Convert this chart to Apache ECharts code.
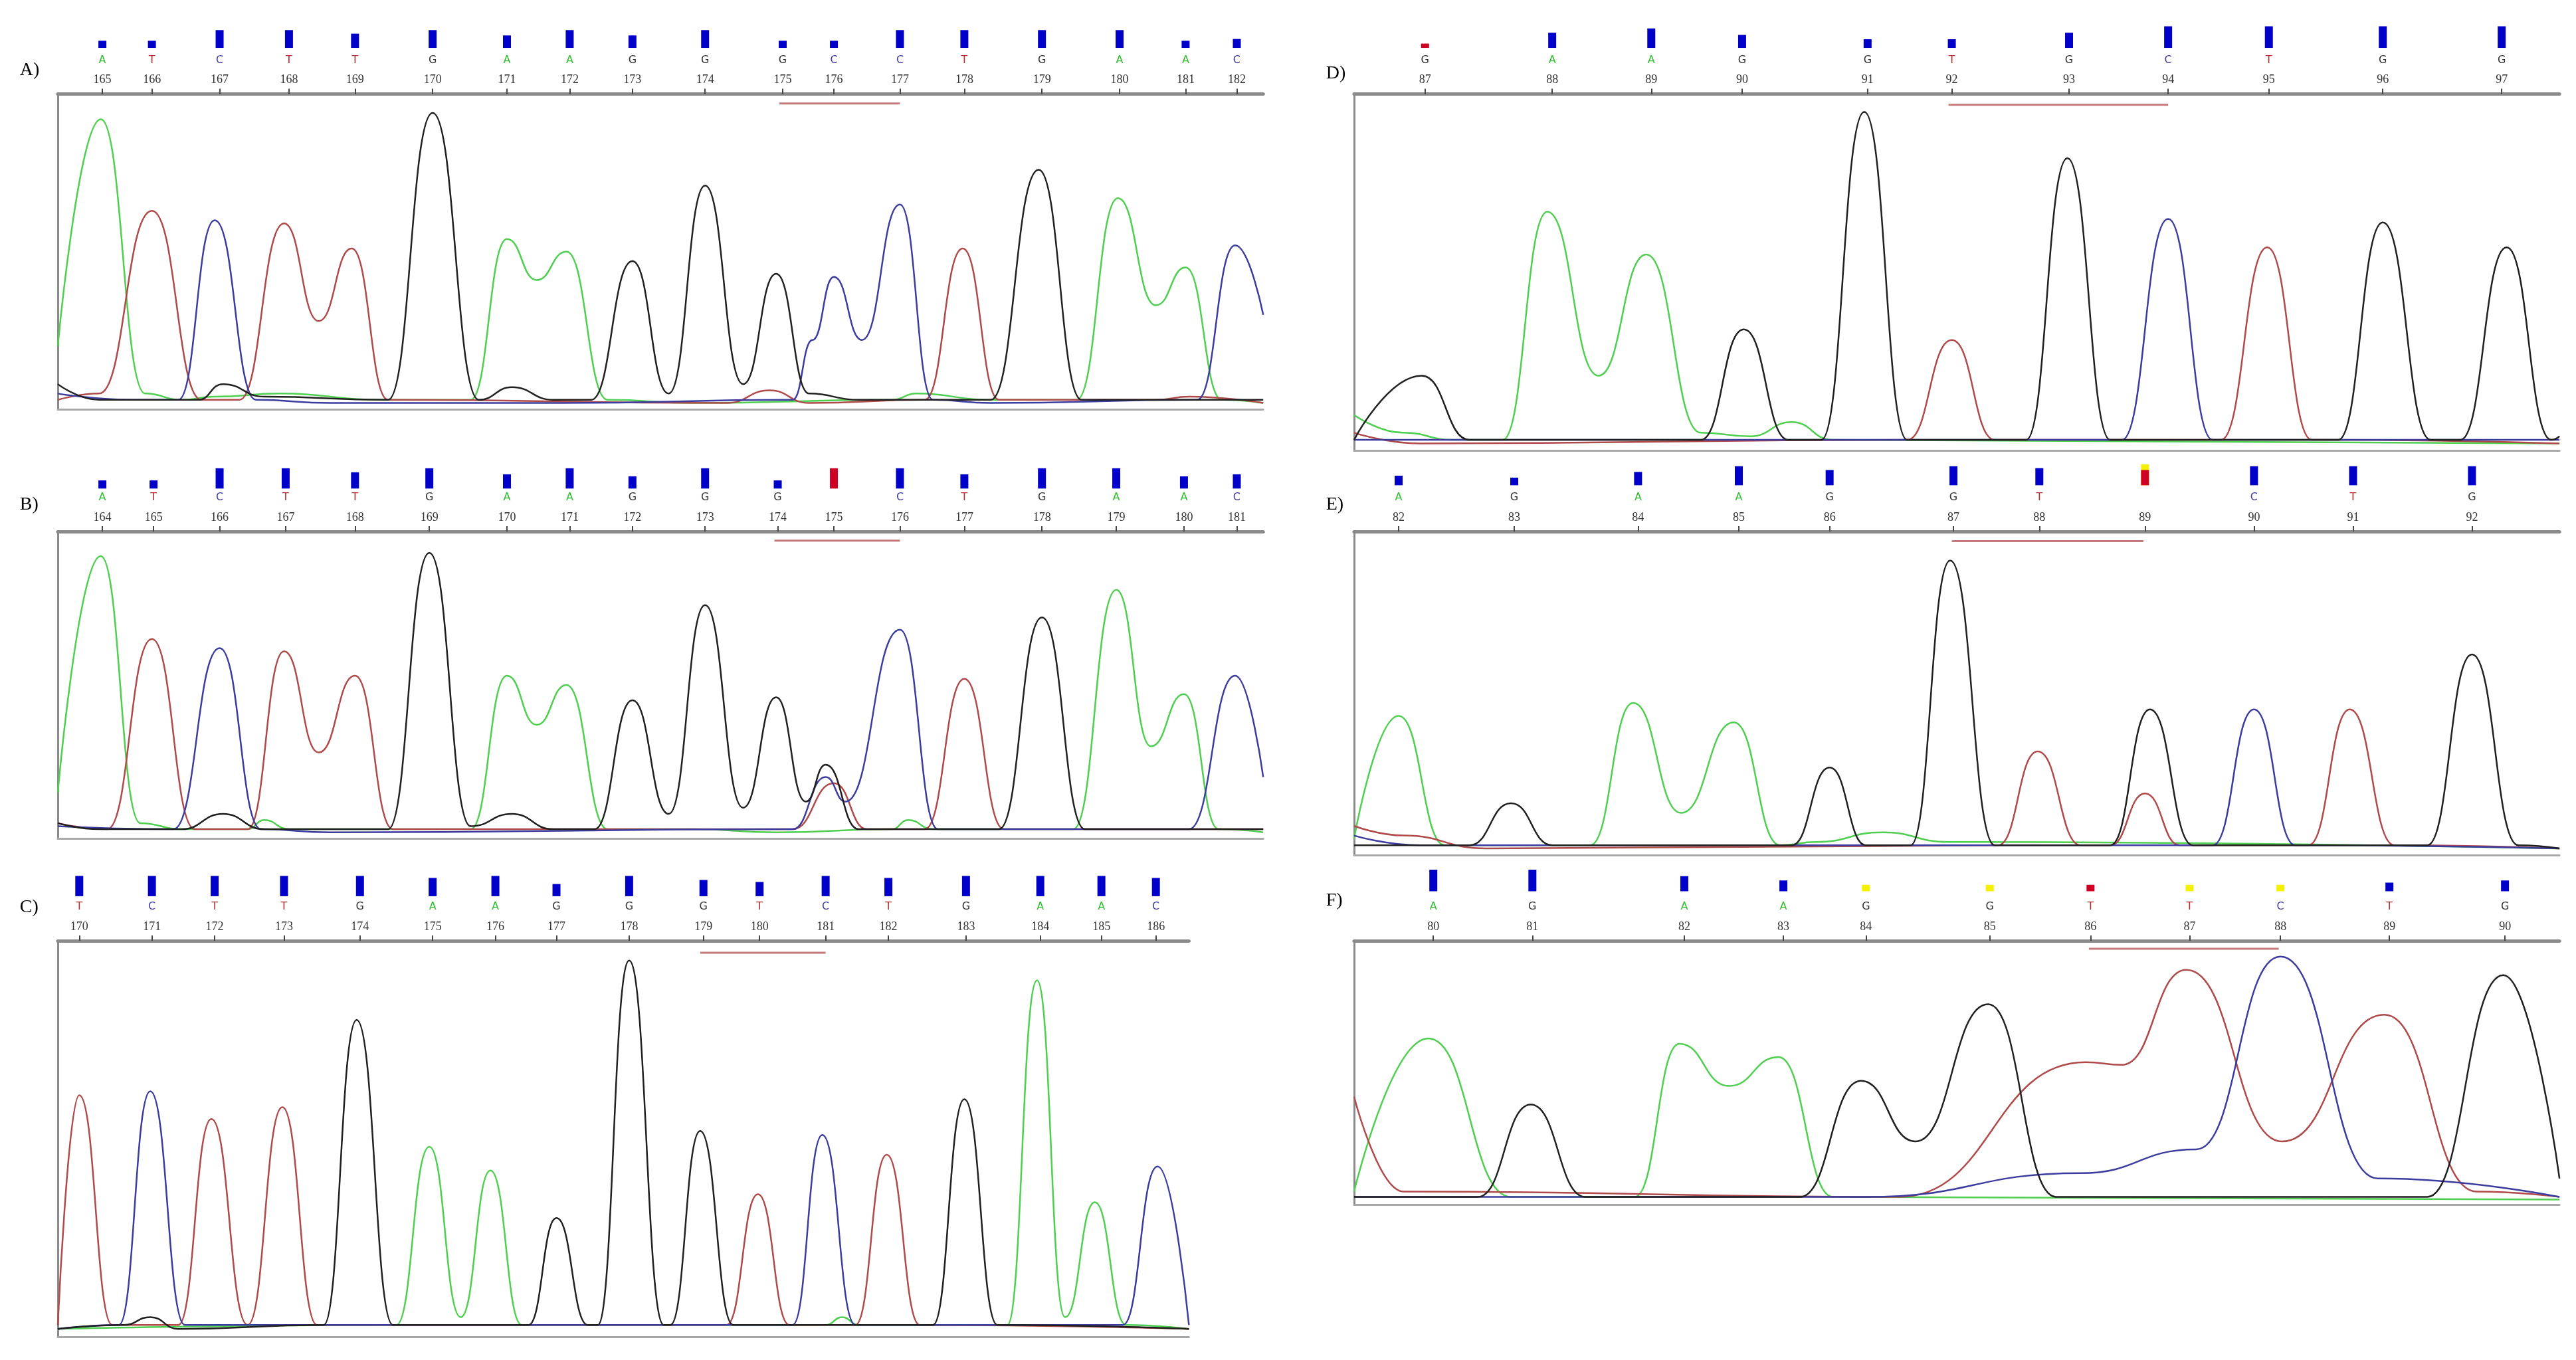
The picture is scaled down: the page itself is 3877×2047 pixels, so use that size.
<!DOCTYPE html>
<html><head><meta charset="utf-8">
<script src="https://cdn.jsdelivr.net/npm/echarts@6/dist/echarts.min.js"></script>
<style>html,body{margin:0;padding:0;background:#fff}#c{width:3877px;height:2047px}</style>
</head><body><div id="c"></div>
<script>
// ---------- DATA ----------
// Panel A
const A_nums=[165,166,167,168,169,170,171,172,173,174,175,176,177,178,179,180,181,182];
const A_bases=['A','T','C','T','T','G','A','A','G','G','G','C','C','T','G','A','A','C'];
const A_pos=[62,92,133,175,215,262,307,345,383,427,474,505,545,584,631,678,718,749];
const A_bars=[0.4,0.4,1,1,0.8,1,0.7,1,0.7,1,0.4,0.4,1,1,1,1,0.4,0.5];
const A_barCol=['b','b','b','b','b','b','b','b','b','b','b','b','b','b','b','b','b','b'];
const A_under=[472,545];
const A_green=[[35,20],[61,92],[88,5],[110,3],[130,4],[170,5],[230,3],[285,3],[307,54],[325,41],[343,50],[368,3],[420,2],[540,3],[555,5],[600,3],[652,3],[677,67],[700,33],[718,45],[740,3],[765,2]];
const A_red=[[35,3],[60,5],[92,63],[122,3],[145,3],[172,59],[193,28],[213,51],[235,3],[440,2],[466,6],[490,2],[560,3],[583,51],[605,3],[700,3],[720,4],[765,2]];
const A_blue=[[35,5],[80,3],[108,3],[130,60],[155,3],[200,2],[340,2],[480,3],[492,22],[505,42],[522,22],[545,65],[565,3],[600,2],[725,3],[748,52],[765,30]];
const A_black=[[35,8],[60,3],[120,3],[135,8],[160,4],[235,3],[262,94],[290,3],[310,7],[335,3],[358,3],[383,47],[405,5],[427,71],[450,8],[470,43],[490,5],[520,3],[600,3],[629,76],[655,3],[765,3]];
// Panel B
const B_nums=[164,165,166,167,168,169,170,171,172,173,174,175,176,177,178,179,180,181];
const B_bases=['A','T','C','T','T','G','A','A','G','G','G','','C','T','G','A','A','C'];
const B_pos=[62,93,133,173,215,260,307,345,383,427,471,505,545,584,631,676,717,749];
const B_bars=[0.4,0.4,1,1,0.8,1,0.7,1,0.6,1,0.4,1,1,0.7,1,1,0.6,0.7];
const B_barCol=['b','b','b','b','b','b','b','b','b','b','b','r','b','b','b','b','b','b'];
const B_under=[469,545];
const B_green=[[35,15],[61,92],[85,5],[110,3],[150,3],[160,6],[175,3],[285,3],[307,53],[325,37],[343,50],[368,3],[420,3],[470,2],[540,3],[550,6],[565,3],[650,3],[676,81],[697,30],[717,47],[738,3],[765,2]];
const B_red=[[35,5],[65,3],[92,65],[118,3],[150,3],[172,61],[193,28],[215,53],[238,3],[480,3],[505,18],[525,3],[560,3],[584,52],[608,3],[700,3],[765,3]];
const B_blue=[[35,4],[105,3],[133,62],[158,3],[200,2],[480,3],[500,20],[512,12],[545,68],[568,3],[720,3],[748,53],[765,20]];
const B_black=[[35,5],[60,3],[110,3],[135,8],[160,3],[235,3],[260,93],[285,4],[310,8],[335,3],[360,3],[383,45],[405,8],[427,76],[450,10],[470,46],[488,12],[500,24],[520,3],[605,3],[631,72],[657,3],[765,3]];
// Panel C
const C_nums=[170,171,172,173,174,175,176,177,178,179,180,181,182,183,184,185,186];
const C_bases=['T','C','T','T','G','A','A','G','G','G','T','C','T','G','A','A','C'];
const C_pos=[48,92,130,172,218,262,300,337,381,426,460,500,538,585,630,667,700];
const C_bars=[1,1,1,1,1,0.9,1,0.6,1,0.8,0.7,1,0.9,1,1,1,0.9];
const C_barCol=['b','b','b','b','b','b','b','b','b','b','b','b','b','b','b','b','b'];
const C_under=[424,500];
const C_green=[[35,2],[240,3],[260,48],[279,5],[297,42],[316,3],[500,3],[510,5],[520,3],[610,3],[628,90],[645,5],[663,34],[682,3],[720,2]];
const C_red=[[35,3],[48,61],[68,3],[108,3],[128,55],[150,3],[171,58],[192,3],[440,3],[459,36],[478,3],[518,3],[537,46],[557,3],[720,2]];
const C_blue=[[35,2],[72,3],[91,62],[112,3],[480,3],[498,51],[518,3],[680,3],[701,43],[720,3]];
const C_black=[[35,2],[75,3],[91,5],[108,2],[196,3],[216,80],[238,3],[320,3],[337,30],[356,3],[362,3],[381,95],[402,3],[406,3],[424,52],[444,3],[565,3],[584,60],[604,3],[720,2]];
// Panel D
const D_nums=[87,88,89,90,91,92,93,94,95,96,97];
const D_bases=['G','A','A','G','G','T','G','C','T','G','G'];
const D_pos=[863,940,1000,1055,1131,1182,1253,1313,1374,1443,1515];
const D_bars=[0.2,0.7,0.9,0.6,0.4,0.4,0.7,1,1,1,1];
const D_barCol=['r','b','b','b','b','b','b','b','b','b','b'];
const D_under=[1180,1313];
const D_black=[[820,3],[861,21],[890,3],[1030,3],[1056,34],[1083,3],[1103,3],[1129,95],[1155,3],[1227,3],[1252,82],[1278,3],[1416,3],[1443,64],[1472,3],[1490,3],[1518,57],[1545,3],[1550,4]];
const D_green=[[820,10],[850,5],[880,3],[910,3],[937,67],[968,21],[997,55],[1030,5],[1060,4],[1085,8],[1110,3],[1550,2]];
const D_red=[[820,5],[860,2],[1155,3],[1182,31],[1208,3],[1345,3],[1373,57],[1400,3],[1550,2]];
const D_blue=[[820,3],[1285,3],[1313,65],[1340,3],[1550,3]];
// Panel E
const E_nums=[82,83,84,85,86,87,88,89,90,91,92];
const E_bases=['A','G','A','A','G','G','T','','C','T','G'];
const E_pos=[847,917,992,1053,1108,1183,1235,1299,1365,1425,1497];
const E_bars=[0.5,0.4,0.7,1,0.8,1,0.9,0.8,1,1,1];
const E_barCol=['b','b','b','b','b','b','b','r','b','b','b'];
const E_caps=[0,0,0,0,0,0,0,0.3,0,0,0];
const E_under=[1182,1298];
const E_green=[[820,5],[847,43],[875,3],[963,3],[989,47],[1018,13],[1050,41],[1078,3],[1100,4],[1140,7],[1180,4],[1550,2]];
const E_black=[[820,3],[890,3],[915,16],[940,3],[1085,3],[1108,27],[1130,3],[1157,3],[1181,91],[1208,3],[1278,3],[1302,45],[1328,3],[1470,3],[1497,62],[1525,3],[1550,2]];
const E_red=[[820,9],[850,6],[900,2],[1210,3],[1234,32],[1260,3],[1278,3],[1299,19],[1320,3],[1398,3],[1423,45],[1450,3],[1550,2]];
const E_blue=[[820,6],[860,3],[1340,3],[1365,45],[1390,3],[1550,2]];
// Panel F
const F_nums=[80,81,82,83,84,85,86,87,88,89,90];
const F_bases=['A','G','A','A','G','G','T','T','C','T','G'];
const F_pos=[868,928,1020,1080,1130,1205,1266,1326,1381,1447,1517];
const F_bars=[1,1,0.7,0.5,0.3,0.3,0.3,0.3,0.3,0.4,0.5];
const F_barCol=['b','b','b','b','y','y','r','y','y','b','b'];
const F_under=[1265,1380];
const F_red=[[820,41],[850,5],[1150,3],[1263,54],[1285,53],[1324,89],[1382,24],[1444,72],[1500,5],[1550,3]];
const F_green=[[820,5],[865,63],[915,3],[990,3],[1017,61],[1047,45],[1077,56],[1110,3],[1550,2]];
const F_black=[[820,3],[895,3],[927,38],[960,3],[1090,3],[1127,47],[1160,24],[1204,76],[1245,3],[1470,3],[1516,87],[1550,10]];
const F_blue=[[820,3],[1130,3],[1260,12],[1330,21],[1381,94],[1440,10],[1550,3]];

// ---------- LAYOUT ----------
const sx=3877/1560, sy=2047/824;
const layouts=[
 {name:'A)',lx:12,ly:45,xr:[35,765],bar:[15,29],plot:[57,248]},
 {name:'B)',lx:12,ly:308,xr:[35,765],bar:[280,296],plot:[322,508]},
 {name:'C)',lx:12,ly:552,xr:[35,720],bar:[527,543],plot:[570,810]},
 {name:'D)',lx:803,ly:47,xr:[820,1550],bar:[12,29],plot:[57,273]},
 {name:'E)',lx:803,ly:308,xr:[820,1550],bar:[279,294],plot:[322,518]},
 {name:'F)',lx:803,ly:548,xr:[820,1550],bar:[523,540],plot:[570,730]}
];
const panels=[
 {nums:A_nums,bases:A_bases,pos:A_pos,bars:A_bars,col:A_barCol,under:A_under,tr:{A:A_green,T:A_red,C:A_blue,G:A_black}},
 {nums:B_nums,bases:B_bases,pos:B_pos,bars:B_bars,col:B_barCol,under:B_under,tr:{A:B_green,T:B_red,C:B_blue,G:B_black}},
 {nums:C_nums,bases:C_bases,pos:C_pos,bars:C_bars,col:C_barCol,under:C_under,tr:{A:C_green,T:C_red,C:C_blue,G:C_black}},
 {nums:D_nums,bases:D_bases,pos:D_pos,bars:D_bars,col:D_barCol,under:D_under,tr:{A:D_green,T:D_red,C:D_blue,G:D_black}},
 {nums:E_nums,bases:E_bases,pos:E_pos,bars:E_bars,col:E_barCol,caps:E_caps,under:E_under,tr:{A:E_green,T:E_red,C:E_blue,G:E_black}},
 {nums:F_nums,bases:F_bases,pos:F_pos,bars:F_bars,col:F_barCol,under:F_under,tr:{A:F_green,T:F_red,C:F_blue,G:F_black}}
];
const traceCol={A:'#4fcf4f',T:'#b04a4a',C:'#3c3ca0',G:'#202020'};
const letterCol={A:'#2fbf2f',T:'#b03030',C:'#3a3aa0',G:'#333'};
const barColMap={b:'#0000c8',r:'#cc0022',y:'#f4f000'};

const grid=[],xAxis=[],yAxis=[],series=[],graphic=[];
layouts.forEach((L,i)=>{
  const P=panels[i];
  const left=L.xr[0]*sx, width=(L.xr[1]-L.xr[0])*sx;
  const gs=grid.length;
  grid.push({left:left,width:width,top:L.bar[0]*sy,height:(L.bar[1]-L.bar[0])*sy});
  xAxis.push({type:'value',gridIndex:gs,min:L.xr[0],max:L.xr[1],show:false});
  yAxis.push({type:'value',gridIndex:gs,min:0,max:1.3,show:false});
  const xs=xAxis.length-1, ys=yAxis.length-1;
  const gp=grid.length;
  grid.push({left:left,width:width,top:L.plot[0]*sy,height:(L.plot[1]-L.plot[0])*sy});
  const map={};P.pos.forEach((p,k)=>map[String(p)]=k);
  xAxis.push({type:'value',gridIndex:gp,position:'top',min:L.xr[0],max:L.xr[1],
    axisLine:{show:true,onZero:false,lineStyle:{color:'#8a8a8a',width:5}},
    axisTick:{show:true,customValues:P.pos,length:8,lineStyle:{color:'#444',width:2}},
    splitLine:{show:false},
    axisLabel:{show:true,customValues:P.pos,margin:6,
      formatter:v=>{const k=map[String(v)];if(k===undefined)return '';const b=P.bases[k];return (b?'{'+b+'|'+b+'}':'{e| }')+'\n{n|'+P.nums[k]+'}';},
      rich:{A:{color:letterCol.A,fontSize:16,lineHeight:30,fontFamily:'DejaVu Sans'},T:{color:letterCol.T,fontSize:16,lineHeight:30,fontFamily:'DejaVu Sans'},
            C:{color:letterCol.C,fontSize:16,lineHeight:30,fontFamily:'DejaVu Sans'},G:{color:letterCol.G,fontSize:16,lineHeight:30,fontFamily:'DejaVu Sans'},
            e:{fontSize:16,lineHeight:30},n:{color:'#333',fontSize:18,lineHeight:30,fontFamily:'Liberation Serif'}}}});
  const xi=xAxis.length-1;
  xAxis.push({type:'value',gridIndex:gp,position:'bottom',min:L.xr[0],max:L.xr[1],
    axisLine:{show:true,onZero:false,lineStyle:{color:'#a8a8a8',width:3}},axisTick:{show:false},axisLabel:{show:false},splitLine:{show:false}});
  yAxis.push({type:'value',gridIndex:gp,min:0,max:100,axisLine:{show:true,onZero:false,lineStyle:{color:'#8a8a8a',width:3}},
    axisTick:{show:false},axisLabel:{show:false},splitLine:{show:false}});
  const yi=yAxis.length-1;
  if(P.caps){
    series.push({type:'bar',xAxisIndex:xs,yAxisIndex:ys,barWidth:12,barGap:'-100%',
      data:P.pos.map((p,k)=>({value:[p,P.caps[k]?P.bars[k]+P.caps[k]:0],itemStyle:{color:barColMap.y}})),silent:true});
  }
  series.push({type:'bar',xAxisIndex:xs,yAxisIndex:ys,barWidth:12,barGap:'-100%',
    data:P.pos.map((p,k)=>({value:[p,P.bars[k]],itemStyle:{color:barColMap[P.col[k]]}})),silent:true});
  ['A','T','C','G'].forEach(b=>{
    series.push({type:'line',xAxisIndex:xi,yAxisIndex:yi,data:P.tr[b],smooth:0.5,smoothMonotone:'x',
      symbol:'none',lineStyle:{color:traceCol[b],width:2.5},silent:true});
  });
  series.push({type:'line',xAxisIndex:xi,yAxisIndex:yi,data:[[P.under[0],97],[P.under[1],97]],symbol:'none',
    lineStyle:{color:'#c47a7a',width:3},silent:true});
  graphic.push({type:'text',left:L.lx*sx,top:(L.ly-8)*sy,style:{text:L.name,font:'28px "Liberation Serif"',fill:'#000'}});
});
const chart=echarts.init(document.getElementById('c'));
chart.setOption({animation:false,backgroundColor:'#fff',grid,xAxis,yAxis,series,graphic});
</script></body></html>
